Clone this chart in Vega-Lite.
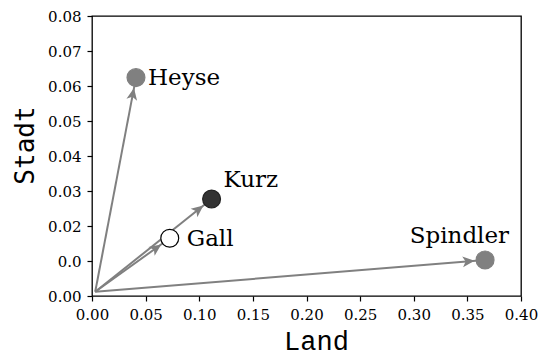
{
  "$schema": "https://vega.github.io/schema/vega-lite/v6.json",
  "width": 429,
  "height": 280,
  "autosize": {"type": "none"},
  "padding": {"left": 92, "top": 16, "right": 22, "bottom": 60},
  "background": "white",
  "data": {
    "values": [
      {"name": "Heyse", "Land": 0.041, "Stadt": 0.0624},
      {"name": "Kurz", "Land": 0.1115, "Stadt": 0.0277},
      {"name": "Gall", "Land": 0.0725, "Stadt": 0.0165},
      {"name": "Spindler", "Land": 0.3665, "Stadt": 0.0103}
    ]
  },
  "encoding": {
    "x": {
      "field": "Land",
      "type": "quantitative",
      "scale": {"domain": [0, 0.4], "nice": false, "zero": false},
      "axis": {
        "title": "Land",
        "values": [0, 0.05, 0.1, 0.15, 0.2, 0.25, 0.3, 0.35, 0.4],
        "format": ".2f",
        "grid": false,
        "domain": false,
        "labelFlush": false,
        "labelOverlap": false,
        "tickColor": "black",
        "tickWidth": 1.2,
        "tickSize": 5,
        "labelFont": "'DejaVu Serif', serif",
        "labelFontSize": 15,
        "labelColor": "black",
        "labelPadding": 6,
        "titleFont": "'Liberation Mono', monospace",
        "titleFontSize": 27,
        "titleFontWeight": "normal",
        "titleColor": "black",
        "titleX": 224,
        "titleY": 53,
        "titleBaseline": "alphabetic",
        "titleAnchor": null,
        "titleAlign": "center"
      }
    },
    "y": {
      "field": "Stadt",
      "type": "quantitative",
      "scale": {"domain": [0, 0.08], "nice": false, "zero": false},
      "axis": {
        "title": "Stadt",
        "values": [0, 0.01, 0.02, 0.03, 0.04, 0.05, 0.06, 0.07, 0.08],
        "labelExpr": "abs(datum.value - 0.01) < 1e-9 ? '0.0' : format(datum.value, '.2f')",
        "grid": false,
        "domain": false,
        "labelFlush": false,
        "labelOverlap": false,
        "tickColor": "black",
        "tickWidth": 1.2,
        "tickSize": 5,
        "labelFont": "'DejaVu Serif', serif",
        "labelFontSize": 15,
        "labelColor": "black",
        "labelPadding": 6,
        "titleFont": "'DejaVu Sans Mono', monospace",
        "titleFontSize": 26,
        "titleFontWeight": "normal",
        "titleColor": "black",
        "titleAngle": 270,
        "titleX": -59,
        "titleY": 129,
        "titleBaseline": "alphabetic",
        "titleAnchor": null,
        "titleAlign": "center"
      }
    }
  },
  "layer": [
    {
      "mark": {"type": "rule", "color": "#808080", "strokeWidth": 2},
      "encoding": {
        "x2": {"datum": 0.003},
        "y2": {"datum": 0.0012}
      }
    },
    {
      "mark": {
        "type": "point",
        "shape": "M0,0 L0.9,2 L0,1.5 L-0.9,2 Z",
        "size": 144,
        "filled": true,
        "opacity": 1,
        "color": "#808080",
        "angle": {"expr": "atan2(scale('x', datum.Land) - scale('x', 0.003), scale('y', 0.0012) - scale('y', datum.Stadt)) * 180 / PI"},
        "xOffset": {"expr": "-10.5 * sin(atan2(scale('x', datum.Land) - scale('x', 0.003), scale('y', 0.0012) - scale('y', datum.Stadt)))"},
        "yOffset": {"expr": "10.5 * cos(atan2(scale('x', datum.Land) - scale('x', 0.003), scale('y', 0.0012) - scale('y', datum.Stadt)))"}
      }
    },
    {
      "mark": {"type": "point", "shape": "circle", "size": 320, "filled": true, "opacity": 1, "strokeWidth": 1.2},
      "encoding": {
        "fill": {
          "field": "name",
          "type": "nominal",
          "scale": {"domain": ["Heyse", "Kurz", "Gall", "Spindler"], "range": ["#808080", "#333333", "#ffffff", "#808080"]},
          "legend": null
        },
        "stroke": {
          "field": "name",
          "type": "nominal",
          "scale": {"domain": ["Heyse", "Kurz", "Gall", "Spindler"], "range": ["#808080", "#222222", "#000000", "#808080"]},
          "legend": null
        }
      }
    },
    {
      "transform": [{"filter": "datum.name == 'Heyse'"}],
      "mark": {"type": "text", "font": "'DejaVu Serif', serif", "fontSize": 23, "color": "black", "align": "left", "baseline": "alphabetic", "dx": 12, "dy": 7},
      "encoding": {"text": {"field": "name"}}
    },
    {
      "transform": [{"filter": "datum.name == 'Kurz'"}],
      "mark": {"type": "text", "font": "'DejaVu Serif', serif", "fontSize": 23, "color": "black", "align": "left", "baseline": "alphabetic", "dx": 12, "dy": -12},
      "encoding": {"text": {"field": "name"}}
    },
    {
      "transform": [{"filter": "datum.name == 'Gall'"}],
      "mark": {"type": "text", "font": "'DejaVu Serif', serif", "fontSize": 23, "color": "black", "align": "left", "baseline": "alphabetic", "dx": 17, "dy": 8},
      "encoding": {"text": {"field": "name"}}
    },
    {
      "transform": [{"filter": "datum.name == 'Spindler'"}],
      "mark": {"type": "text", "font": "'DejaVu Serif', serif", "fontSize": 23, "color": "black", "align": "right", "baseline": "alphabetic", "dx": 24, "dy": -17},
      "encoding": {"text": {"field": "name"}}
    }
  ],
  "config": {
    "view": {"stroke": "black", "strokeWidth": 1.3}
  }
}
